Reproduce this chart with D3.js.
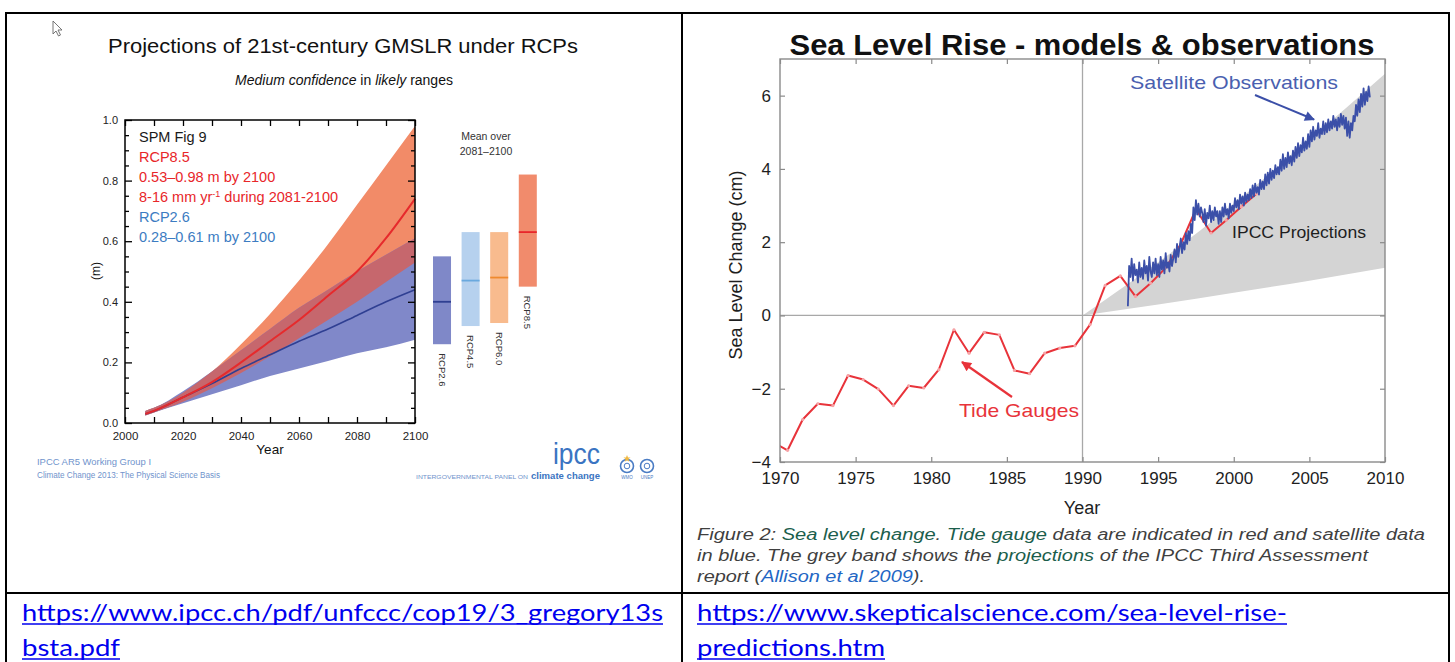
<!DOCTYPE html>
<html>
<head>
<meta charset="utf-8">
<script src="https://cdn.jsdelivr.net/npm/d3@7"></script>
<style>
  html, body { margin: 0; padding: 0; background: #fff; }
  svg { display: block; font-family: "Liberation Sans", Arial, sans-serif; }
</style>
</head>
<body>
<svg id="fig" width="1455" height="662"></svg>
<script>
// ---------- Left panel: AR5 projections of global mean sea level rise ----------
const rcpYears   = [2007, 2010, 2020, 2030, 2040, 2050, 2060, 2070, 2080, 2090, 2100];
const rcp85Mean  = [0.03, 0.04, 0.085, 0.135, 0.20, 0.27, 0.34, 0.42, 0.50, 0.61, 0.74];
const rcp85Low   = [0.025, 0.035, 0.07, 0.115, 0.165, 0.22, 0.28, 0.34, 0.40, 0.465, 0.53];
const rcp85High  = [0.04, 0.05, 0.10, 0.17, 0.26, 0.36, 0.47, 0.59, 0.72, 0.85, 0.98];
const rcp26Mean  = [0.03, 0.04, 0.085, 0.13, 0.18, 0.225, 0.27, 0.31, 0.355, 0.40, 0.44];
const rcp26Low   = [0.025, 0.035, 0.065, 0.095, 0.125, 0.155, 0.18, 0.205, 0.23, 0.25, 0.275];
const rcp26High  = [0.04, 0.05, 0.105, 0.17, 0.24, 0.31, 0.38, 0.44, 0.50, 0.555, 0.61];

// mean over 2081-2100
const scenarios    = ["RCP2.6", "RCP4.5", "RCP6.0", "RCP8.5"];
const scenarioLow  = [0.26, 0.32, 0.33, 0.45];
const scenarioHigh = [0.55, 0.63, 0.63, 0.82];
const scenarioMean = [0.40, 0.47, 0.48, 0.63];
const scenarioFill = ["#7f88c8", "#b6d1ee", "#f8bb8e", "#f18b6c"];
const scenarioLine = ["#2f3f92", "#6aa9de", "#ef8a2e", "#e8262a"];

const leftYTicks = [0, 0.2, 0.4, 0.6, 0.8, 1.0];
const leftXTicks = [2000, 2020, 2040, 2060, 2080, 2100];

// ---------- Right panel: tide gauges, satellite altimetry, TAR projections ----------
const tideYears  = [1969.5, 1970.5, 1971.5, 1972.5, 1973.5, 1974.5, 1975.5, 1976.5, 1977.5, 1978.5,
                    1979.5, 1980.5, 1981.5, 1982.5, 1983.5, 1984.5, 1985.5, 1986.5, 1987.5, 1988.5,
                    1989.5, 1990.5, 1991.5, 1992.5, 1993.5, 1994.5, 1995.5, 1996.5, 1997.5, 1998.5,
                    1999.5, 2000.5, 2001.5];
const tideLevels = [-3.45, -3.68, -2.84, -2.41, -2.46, -1.64, -1.75, -2.01, -2.46, -1.92,
                    -1.98, -1.48, -0.39, -1.03, -0.46, -0.53, -1.50, -1.59, -1.03, -0.89,
                    -0.83, -0.25, 0.82, 1.08, 0.52, 0.88, 1.30, 1.95, 2.90, 2.25,
                    2.60, 2.97, 3.32];

const satStart = 1993.0;
const satStep  = 1 / 12;   // monthly satellite samples
const satLevels = [
  0.25, 1.35, 1.05, 1.55, 0.95, 1.40, 1.10, 1.25, 0.90, 1.45, 1.05, 1.30,
  1.00, 1.50, 1.15, 1.35, 0.95, 1.60, 1.20, 1.05, 1.45, 1.15, 1.55, 1.10,
  1.40, 1.05, 1.60, 1.25, 1.50, 1.15, 1.70, 1.30, 1.45, 1.20, 1.65, 1.35,
  1.55, 1.80, 1.45, 1.95, 1.60, 1.85, 2.10, 1.70, 2.00, 1.80, 2.25, 1.95,
  2.30, 2.05, 2.50, 2.25, 2.95, 2.60, 3.15, 2.75, 3.05, 2.70, 2.95, 2.80,
  2.55, 2.90, 2.45, 2.80, 2.65, 3.00, 2.55, 2.85, 2.60, 2.95, 2.70, 2.85,
  2.50, 2.85, 2.55, 2.95, 2.70, 3.05, 2.75, 2.90, 2.65, 3.05, 2.80, 3.00,
  2.85, 3.20, 2.95, 3.15, 2.90, 3.30, 3.05, 3.25, 3.00, 3.35, 3.10, 3.30,
  3.15, 3.45, 3.20, 3.55, 3.25, 3.60, 3.35, 3.50, 3.30, 3.70, 3.45, 3.65,
  3.45, 3.85, 3.55, 3.90, 3.60, 4.00, 3.70, 3.95, 3.75, 4.10, 3.85, 4.05,
  3.85, 4.25, 3.95, 4.40, 4.00, 4.30, 4.05, 4.45, 4.15, 4.35, 4.10, 4.50,
  4.20, 4.60, 4.30, 4.70, 4.35, 4.65, 4.45, 4.85, 4.50, 4.75, 4.55, 4.95,
  4.60, 5.05, 4.75, 5.15, 4.80, 5.05, 4.90, 5.25, 4.85, 5.10, 4.95, 5.30,
  4.95, 5.25, 5.00, 5.35, 5.05, 5.30, 5.10, 5.45, 5.15, 5.35, 5.05, 5.40,
  5.15, 5.50, 5.20, 5.45, 5.10, 5.40, 4.90, 5.30, 4.85, 5.25, 5.05, 5.45,
  5.30, 5.75, 5.45, 5.90, 5.55, 6.05, 5.70, 6.20, 5.75, 6.10, 5.85, 6.25,
  5.95
];

const tarYears = [1990, 1995, 2000, 2005, 2010];
const tarHigh  = [0, 1.45, 3.05, 4.80, 6.60];
const tarLow   = [0, 0.30, 0.62, 0.95, 1.30];

const rightXTicks = [1970, 1975, 1980, 1985, 1990, 1995, 2000, 2005, 2010];
const rightYTicks = [-4, -2, 0, 2, 4, 6];

// ======================================================================
const svg = d3.select("#fig");
svg.append("rect").attr("width", 1455).attr("height", 662).attr("fill", "#fff");

const defs = svg.append("defs");
function arrowMarker(id, color) {
  defs.append("marker")
    .attr("id", id).attr("viewBox", "0 0 10 10")
    .attr("refX", 9).attr("refY", 5)
    .attr("markerWidth", 12).attr("markerHeight", 10)
    .attr("markerUnits", "userSpaceOnUse")
    .attr("orient", "auto")
    .append("path").attr("d", "M0,0 L10,5 L0,10 Z").attr("fill", color);
}
arrowMarker("arrowRed", "#e8333a");
arrowMarker("arrowBlue", "#3b4fa8");

// table rules
const rules = svg.append("g").attr("stroke", "#000").attr("stroke-width", 2);
[[6, 13, 1449, 13], [6, 12, 6, 662], [682, 12, 682, 662], [1449, 12, 1449, 662], [6, 593, 1449, 593]]
  .forEach(([x1, y1, x2, y2]) => rules.append("line").attr("x1", x1).attr("y1", y1).attr("x2", x2).attr("y2", y2));

// pointer cursor
svg.append("path")
  .attr("d", "M53,21 L53,34 L56,31 L58.5,36 L60.5,35 L58,30 L62,30 Z")
  .attr("fill", "#fff").attr("stroke", "#666").attr("stroke-width", 0.9);

// ---------------- Left panel ----------------
const L = svg.append("g");
L.append("text").attr("x", 343).attr("y", 53).attr("text-anchor", "middle")
  .attr("font-size", 20).attr("fill", "#111")
  .attr("textLength", 470).attr("lengthAdjust", "spacingAndGlyphs")
  .text("Projections of 21st-century GMSLR under RCPs");
const sub = L.append("text").attr("x", 344).attr("y", 85).attr("text-anchor", "middle")
  .attr("font-size", 14).attr("fill", "#111");
sub.append("tspan").attr("font-style", "italic").text("Medium  confidence");
sub.append("tspan").text(" in ");
sub.append("tspan").attr("font-style", "italic").text("likely");
sub.append("tspan").text(" ranges");

const xL = d3.scaleLinear().domain([2000, 2100]).range([125, 415]);
const yL = d3.scaleLinear().domain([0, 1]).range([423, 120]);

const bandArea = (lo, hi) => d3.area()
  .x((d, i) => xL(rcpYears[i])).y0((d, i) => yL(lo[i])).y1((d, i) => yL(hi[i]))
  .curve(d3.curveMonotoneX);
const overlapLo = rcpYears.map((d, i) => Math.max(rcp85Low[i], rcp26Low[i]));
const overlapHi = rcpYears.map((d, i) => Math.min(rcp85High[i], rcp26High[i]));

L.append("path").attr("d", bandArea(rcp85Low, rcp85High)(rcpYears)).attr("fill", "#f28b68");
L.append("path").attr("d", bandArea(rcp26Low, rcp26High)(rcpYears)).attr("fill", "#8088c9");
L.append("path").attr("d", bandArea(overlapLo, overlapHi)(rcpYears)).attr("fill", "#c6676d");

const meanLine = vals => d3.line().x((d, i) => xL(rcpYears[i])).y((d, i) => yL(vals[i])).curve(d3.curveMonotoneX)(rcpYears);
L.append("path").attr("d", meanLine(rcp26Mean)).attr("fill", "none").attr("stroke", "#2f3f92").attr("stroke-width", 1.6);
L.append("path").attr("d", meanLine(rcp85Mean)).attr("fill", "none").attr("stroke", "#e62a2c").attr("stroke-width", 2);

// axes (inward ticks on all four sides)
const fmt1 = d3.format(".1f");
const isMajorY = d => Math.abs(d * 5 - Math.round(d * 5)) < 1e-6;
const yMinor = d3.range(0, 21).map(i => i / 20);
const xMinor = d3.range(2000, 2101, 10);
function styleAxis(g, color) {
  g.select(".domain").remove();
  g.selectAll(".tick line").attr("stroke", color).attr("stroke-width", 1.3);
}
L.append("g").attr("transform", `translate(0,${yL(0)})`)
  .call(d3.axisBottom(xL).tickValues(xMinor).tickSizeInner(-6).tickSizeOuter(0).tickPadding(9)
    .tickFormat(d => leftXTicks.includes(d) ? d : ""))
  .call(g => styleAxis(g, "#000"))
  .call(g => g.selectAll("text").attr("font-size", 11.5).attr("fill", "#222").attr("font-family", "Liberation Sans, Arial"));
L.append("g").attr("transform", `translate(0,${yL(1)})`)
  .call(d3.axisTop(xL).tickValues(xMinor).tickSizeInner(-6).tickSizeOuter(0).tickFormat(""))
  .call(g => styleAxis(g, "#000"));
L.append("g").attr("transform", `translate(${xL(2000)},0)`)
  .call(d3.axisLeft(yL).tickValues(yMinor).tickSizeInner(-4).tickSizeOuter(0).tickPadding(7)
    .tickFormat(d => leftYTicks.some(t => Math.abs(t - d) < 1e-6) ? fmt1(d) : ""))
  .call(g => styleAxis(g, "#000"))
  .call(g => g.selectAll(".tick line").attr("x2", d => isMajorY(d) ? 7 : 4))
  .call(g => g.selectAll("text").attr("font-size", 11).attr("fill", "#222").attr("font-family", "Liberation Sans, Arial"));
L.append("g").attr("transform", `translate(${xL(2100)},0)`)
  .call(d3.axisRight(yL).tickValues(yMinor).tickSizeInner(-4).tickSizeOuter(0).tickFormat(""))
  .call(g => styleAxis(g, "#000"))
  .call(g => g.selectAll(".tick line").attr("x2", d => isMajorY(d) ? -7 : -4));
L.append("rect").attr("x", xL(2000)).attr("y", yL(1)).attr("width", xL(2100) - xL(2000)).attr("height", yL(0) - yL(1))
  .attr("fill", "none").attr("stroke", "#000").attr("stroke-width", 1.5);

L.append("text").attr("x", 270).attr("y", 454).attr("text-anchor", "middle").attr("font-size", 13.5).attr("fill", "#111").text("Year");
L.append("text").attr("transform", "translate(100,271) rotate(-90)").attr("text-anchor", "middle").attr("font-size", 12).attr("fill", "#111").text("(m)");

// in-plot annotation
const ann = [
  { t: "SPM Fig 9", c: "#1a1a1a", y: 142 },
  { t: "RCP8.5", c: "#e8262a", y: 162 },
  { t: "0.53–0.98 m by 2100", c: "#e8262a", y: 182 },
  { t: null, c: "#e8262a", y: 202 },
  { t: "RCP2.6", c: "#3c7cc2", y: 222 },
  { t: "0.28–0.61 m by 2100", c: "#3c7cc2", y: 242 }
];
ann.forEach(a => {
  const t = L.append("text").attr("x", 139).attr("y", a.y).attr("font-size", 14.5).attr("fill", a.c);
  if (a.t) t.text(a.t);
  else {
    t.append("tspan").text("8-16 mm yr");
    t.append("tspan").attr("dy", -5).attr("font-size", 9).text("-1");
    t.append("tspan").attr("dy", 5).text(" during 2081-2100");
  }
});

// 2081-2100 mean bars
const xBar = d3.scaleBand().domain(scenarios).range([433, 536.8]).paddingInner(0.37).paddingOuter(0);
L.append("text").attr("x", 486).attr("y", 140).attr("text-anchor", "middle").attr("font-size", 10.5).attr("fill", "#333").text("Mean over");
L.append("text").attr("x", 486).attr("y", 155).attr("text-anchor", "middle").attr("font-size", 10.5).attr("fill", "#333").text("2081–2100");
scenarios.forEach((s, i) => {
  const x0 = xBar(s), w = xBar.bandwidth();
  L.append("rect").attr("x", x0).attr("y", yL(scenarioHigh[i])).attr("width", w)
    .attr("height", yL(scenarioLow[i]) - yL(scenarioHigh[i])).attr("fill", scenarioFill[i]);
  L.append("line").attr("x1", x0).attr("x2", x0 + w).attr("y1", yL(scenarioMean[i])).attr("y2", yL(scenarioMean[i]))
    .attr("stroke", scenarioLine[i]).attr("stroke-width", 1.8);
  L.append("text").attr("transform", `translate(${x0 + w / 2 - 3.5},${yL(scenarioLow[i]) + 9}) rotate(90)`)
    .attr("font-size", 9.5).attr("fill", "#333").text(s);
});

// footer credits and logos
L.append("text").attr("x", 37).attr("y", 465).attr("font-size", 8.5).attr("fill", "#6f93cc")
  .attr("textLength", 114).attr("lengthAdjust", "spacingAndGlyphs").text("IPCC AR5 Working Group I");
L.append("text").attr("x", 37).attr("y", 478).attr("font-size", 8.5).attr("fill", "#6f93cc")
  .attr("textLength", 183).attr("lengthAdjust", "spacingAndGlyphs").text("Climate Change 2013:  The Physical Science Basis");
L.append("text").attr("x", 553).attr("y", 464).attr("font-size", 30).attr("fill", "#3a74c2")
  .attr("textLength", 47).attr("lengthAdjust", "spacingAndGlyphs").text("ipcc");
L.append("text").attr("x", 416).attr("y", 479).attr("font-size", 5.5).attr("fill", "#6f93cc")
  .attr("textLength", 112).attr("lengthAdjust", "spacingAndGlyphs").text("INTERGOVERNMENTAL PANEL ON");
L.append("text").attr("x", 531).attr("y", 479).attr("font-size", 9.5).attr("font-weight", "bold").attr("fill", "#3a74c2")
  .attr("textLength", 69).attr("lengthAdjust", "spacingAndGlyphs").text("climate change");
[[627, "WMO"], [647, "UNEP"]].forEach(([cx, lab]) => {
  L.append("circle").attr("cx", cx).attr("cy", 466).attr("r", 6.5).attr("fill", "#fff").attr("stroke", "#4a7cc4").attr("stroke-width", 1.6);
  L.append("circle").attr("cx", cx).attr("cy", 466).attr("r", 2.8).attr("fill", "none").attr("stroke", "#4a7cc4").attr("stroke-width", 1);
  L.append("text").attr("x", cx).attr("y", 479).attr("text-anchor", "middle").attr("font-size", 4.5).attr("fill", "#4a7cc4").text(lab);
});
L.append("path").attr("d", "M627,455 l1,2.5 l2.5,0 l-2,1.6 l0.8,2.6 l-2.3,-1.5 l-2.3,1.5 l0.8,-2.6 l-2,-1.6 l2.5,0 Z").attr("fill", "#f0b840");

// ---------------- Right panel ----------------
const R = svg.append("g");
R.append("text").attr("x", 1082).attr("y", 55).attr("text-anchor", "middle")
  .attr("font-size", 29).attr("font-weight", "bold").attr("fill", "#111")
  .attr("textLength", 585).attr("lengthAdjust", "spacingAndGlyphs")
  .text("Sea Level Rise - models & observations");

const xR = d3.scaleLinear().domain([1970, 2010]).range([780, 1385]);
const yR = d3.scaleLinear().domain([-4, 7]).range([462, 59]);

R.append("defs").append("clipPath").attr("id", "plotClip")
  .append("rect").attr("x", xR(1970)).attr("y", yR(7)).attr("width", xR(2010) - xR(1970)).attr("height", yR(-4) - yR(7));
const P = R.append("g").attr("clip-path", "url(#plotClip)");

P.append("path")
  .attr("d", d3.area().x((d, i) => xR(tarYears[i])).y0((d, i) => yR(tarLow[i])).y1((d, i) => yR(tarHigh[i]))
    .curve(d3.curveMonotoneX)(tarYears))
  .attr("fill", "#d4d4d4");

P.append("line").attr("x1", xR(1970)).attr("x2", xR(2010)).attr("y1", yR(0)).attr("y2", yR(0)).attr("stroke", "#a8a8a8").attr("stroke-width", 1.3);
P.append("line").attr("x1", xR(1990)).attr("x2", xR(1990)).attr("y1", yR(7)).attr("y2", yR(-4)).attr("stroke", "#a8a8a8").attr("stroke-width", 1.3);

P.append("path")
  .attr("d", d3.line().x((d, i) => xR(tideYears[i])).y(d => yR(d))(tideLevels))
  .attr("fill", "none").attr("stroke", "#e8333a").attr("stroke-width", 2).attr("stroke-linejoin", "round");
P.selectAll("circle.tg").data(tideLevels).join("circle").attr("class", "tg")
  .attr("cx", (d, i) => xR(tideYears[i])).attr("cy", d => yR(d)).attr("r", 1.6).attr("fill", "#f6a3a6");

P.append("path")
  .attr("d", d3.line().x((d, i) => xR(satStart + i * satStep)).y(d => yR(d))(satLevels))
  .attr("fill", "none").attr("stroke", "#3b4fa8").attr("stroke-width", 1.8).attr("stroke-linejoin", "round");

function styleR(g) {
  g.select(".domain").remove();
  g.selectAll(".tick line").attr("stroke", "#8a8a8a").attr("stroke-width", 1.2);
  g.selectAll("text").attr("font-size", 17).attr("fill", "#1e1e1e").attr("font-family", "Liberation Sans, Arial");
}
R.append("g").attr("transform", `translate(0,${yR(-4)})`)
  .call(d3.axisBottom(xR).tickValues(rightXTicks).tickSizeInner(-5).tickSizeOuter(0).tickPadding(10).tickFormat(d3.format("d")))
  .call(styleR);
R.append("g").attr("transform", `translate(0,${yR(7)})`)
  .call(d3.axisTop(xR).tickValues(rightXTicks).tickSizeInner(-5).tickSizeOuter(0).tickFormat(""))
  .call(styleR);
R.append("g").attr("transform", `translate(${xR(1970)},0)`)
  .call(d3.axisLeft(yR).tickValues(rightYTicks).tickSizeInner(-5).tickSizeOuter(0).tickPadding(9).tickFormat(d3.format("d")))
  .call(styleR);
R.append("g").attr("transform", `translate(${xR(2010)},0)`)
  .call(d3.axisRight(yR).tickValues(rightYTicks).tickSizeInner(-5).tickSizeOuter(0).tickFormat(""))
  .call(styleR);
R.append("rect").attr("x", xR(1970)).attr("y", yR(7)).attr("width", xR(2010) - xR(1970)).attr("height", yR(-4) - yR(7))
  .attr("fill", "none").attr("stroke", "#8a8a8a").attr("stroke-width", 1.4);

R.append("text").attr("x", 1082).attr("y", 514).attr("text-anchor", "middle").attr("font-size", 18).attr("fill", "#1e1e1e").text("Year");
R.append("text").attr("transform", "translate(742,265) rotate(-90)").attr("text-anchor", "middle")
  .attr("font-size", 18).attr("fill", "#1e1e1e").text("Sea Level Change (cm)");

// labels with pointers
R.append("text").attr("x", 1130).attr("y", 89).attr("font-size", 18.5).attr("fill", "#4a5fb0")
  .attr("textLength", 208).attr("lengthAdjust", "spacingAndGlyphs").text("Satellite Observations");
R.append("line").attr("x1", 1255).attr("y1", 95).attr("x2", 1314).attr("y2", 119.5)
  .attr("stroke", "#3b4fa8").attr("stroke-width", 2).attr("marker-end", "url(#arrowBlue)");
R.append("text").attr("x", 1232).attr("y", 238).attr("font-size", 17).attr("fill", "#1e1e1e")
  .attr("textLength", 134).attr("lengthAdjust", "spacingAndGlyphs").text("IPCC Projections");
R.append("text").attr("x", 959).attr("y", 417).attr("font-size", 19).attr("fill", "#e8333a")
  .attr("textLength", 120).attr("lengthAdjust", "spacingAndGlyphs").text("Tide Gauges");
R.append("line").attr("x1", 1012).attr("y1", 397).attr("x2", 962).attr("y2", 362)
  .attr("stroke", "#e8333a").attr("stroke-width", 2.2).attr("marker-end", "url(#arrowRed)");

// figure caption
const capLines = [
  { w: 728, parts: [["Figure 2: ", "#3f3f3f"], ["Sea level change", "#1b5e4c"], [". ", "#3f3f3f"], ["Tide gauge", "#1b5e4c"], [" data are indicated in red and satellite data", "#3f3f3f"]] },
  { w: 671, parts: [["in blue. The grey band shows the ", "#3f3f3f"], ["projections", "#1b5e4c"], [" of the IPCC Third Assessment", "#3f3f3f"]] },
  { w: 228, parts: [["report (", "#3f3f3f"], ["Allison et al 2009", "#2266c4"], [").", "#3f3f3f"]] }
];
capLines.forEach((ln, k) => {
  const t = R.append("text").attr("x", 697).attr("y", 540 + k * 21).attr("font-size", 16).attr("font-style", "italic")
    .attr("textLength", ln.w).attr("lengthAdjust", "spacingAndGlyphs");
  ln.parts.forEach(([s, c]) => t.append("tspan").attr("fill", c).text(s));
});

// source links
const links = [
  { x: 22, y: 621, w: 641, t: "https://www.ipcc.ch/pdf/unfccc/cop19/3_gregory13s" },
  { x: 22, y: 656, w: 98, t: "bsta.pdf" },
  { x: 697, y: 621, w: 590, t: "https://www.skepticalscience.com/sea-level-rise-" },
  { x: 697, y: 656, w: 188, t: "predictions.htm" }
];
links.forEach(l => {
  svg.append("text").attr("x", l.x).attr("y", l.y).attr("font-size", 24).attr("fill", "#0000ee")
    .attr("font-family", "Lato, 'Open Sans', sans-serif")
    .attr("textLength", l.w).attr("lengthAdjust", "spacingAndGlyphs").text(l.t);
  svg.append("line").attr("x1", l.x).attr("x2", l.x + l.w).attr("y1", l.y + 3).attr("y2", l.y + 3)
    .attr("stroke", "#0000ee").attr("stroke-width", 1.4);
});
</script>
</body>
</html>
